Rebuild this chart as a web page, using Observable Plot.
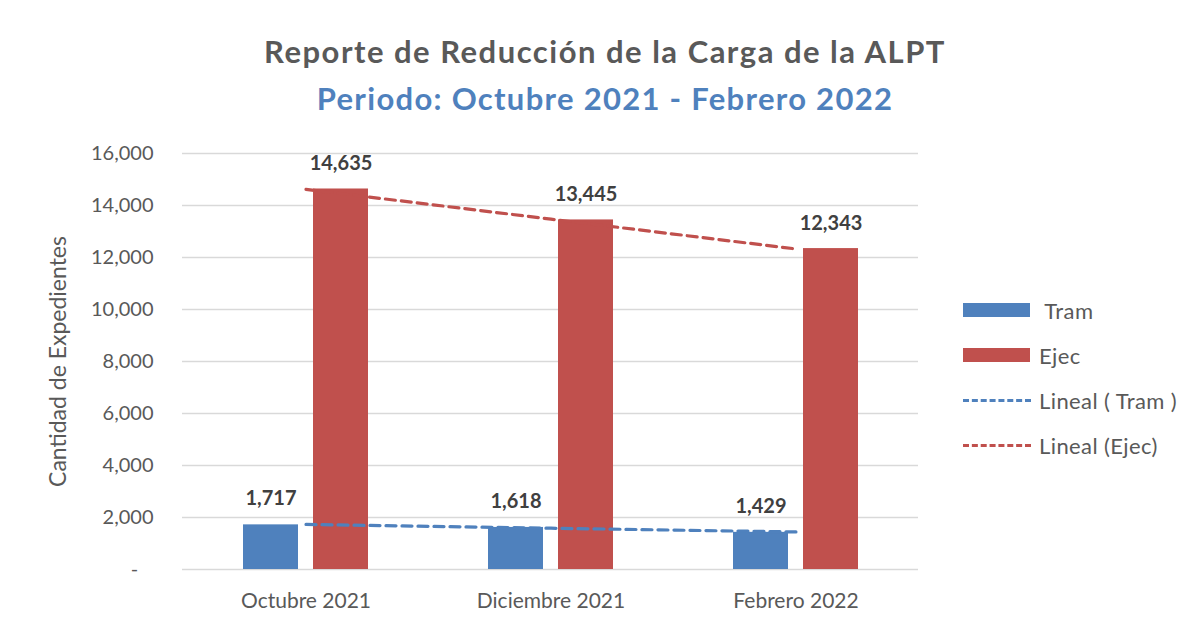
<!DOCTYPE html>
<html>
<head>
<meta charset="utf-8">
<script src="https://cdn.jsdelivr.net/npm/d3@7"></script>
<script src="https://cdn.jsdelivr.net/npm/@observablehq/plot@0.6"></script>
<style>
  html, body { margin: 0; padding: 0; background: #fff; }
  body { width: 1202px; height: 628px; overflow: hidden; font-family: Lato, "Open Sans", sans-serif; }
  #head { position: relative; height: 140px; }
  #head div { position: absolute; left: 0; width: 1210px; text-align: center; font-weight: bold; font-size: 31px; line-height: 34px; white-space: nowrap; }
  #t1 { top: 34px; color: #595959; letter-spacing: 1.5px; }
  #t2 { top: 81px; color: #4F81BD; letter-spacing: 1.3px; }
  #wrap { position: relative; }
  #legend { position: absolute; left: 0; top: 0; width: 1202px; height: 628px; pointer-events: none; }
  .li { position: absolute; left: 963px; height: 30px; display: flex; align-items: center; font-size: 22px; letter-spacing: 0.4px; color: #595959; white-space: pre; }
  .sw { width: 67px; height: 14px; margin-right: 9px; }
  .ln { width: 68px; height: 0; border-top: 3px dashed; margin-right: 8px; }
</style>
</head>
<body>
<div id="wrap">
  <div id="head"><div id="t1">Reporte de Reducción de la Carga de la ALPT</div><div id="t2">Periodo: Octubre 2021 - Febrero 2022</div></div>
  <div id="chart"></div>
  <div id="legend"></div>
</div>
<script>
const categories = ["Octubre 2021", "Diciembre 2021", "Febrero 2022"];
const tram = [1717, 1618, 1429];
const ejec = [14635, 13445, 12343];
const yTicks = [0, 2000, 4000, 6000, 8000, 10000, 12000, 14000, 16000];
const seriesNames = [" Tram", "Ejec", "Lineal ( Tram )", "Lineal (Ejec)"];

const BLUE = "#4F81BD", RED = "#C0504D";

// least-squares linear trend over category index (like Excel's linear trendline)
function trend(vals) {
  const xs = vals.map((_, i) => i + 1);
  const mx = d3.mean(xs), my = d3.mean(vals);
  const b = d3.sum(xs, (x, i) => (x - mx) * (vals[i] - my)) / d3.sum(xs, x => (x - mx) ** 2);
  return xs.map(x => my + b * (x - mx));
}
const tramFit = trend(tram), ejecFit = trend(ejec);
const tramRows = categories.map((c, i) => ({cat: c, value: tram[i], fit: tramFit[i]}));
const ejecRows = categories.map((c, i) => ({cat: c, value: ejec[i], fit: ejecFit[i]}));
const fmt = d3.format(",");

const chart = Plot.plot({
  width: 1202,
  height: 488,
  marginTop: 13,
  marginBottom: 59,
  marginLeft: 182,
  marginRight: 284,
  style: {fontFamily: "Lato, 'Open Sans', sans-serif", fontSize: "20px", color: "#595959", background: "white"},
  x: {domain: categories, padding: 0, label: null},
  y: {domain: [0, 16000], label: null},
  marks: [
    Plot.gridY(yTicks, {stroke: "#D9D9D9", strokeOpacity: 1, strokeWidth: 1.5}),
    Plot.axisY(yTicks, {tickSize: 0, tickPadding: 29, label: null, fontSize: 20, fill: "#595959",
      tickFormat: d => d === 0 ? "-\u00a0\u00a0\u00a0" : fmt(d)}),
    Plot.axisX({tickSize: 0, tickPadding: 24, label: null, fontSize: 21, fill: "#595959"}),
    Plot.barY(tramRows, {x: "cat", y: "value", fill: BLUE, insetLeft: 60, insetRight: 130}),
    Plot.barY(ejecRows, {x: "cat", y: "value", fill: RED, insetLeft: 130, insetRight: 60}),
    Plot.line(tramRows, {x: "cat", y: "fit", stroke: BLUE, strokeWidth: 3.2, strokeDasharray: "10,6"}),
    Plot.line(ejecRows, {x: "cat", y: "fit", stroke: RED, strokeWidth: 3.2, strokeDasharray: "10,6"}),
    Plot.text(tramRows, {x: "cat", y: "value", text: d => fmt(d.value), dx: -35, dy: -26, fontWeight: "bold", fontSize: 20, fill: "#404040"}),
    Plot.text(ejecRows, {x: "cat", y: "value", text: d => fmt(d.value), dx: 35, dy: -25, fontWeight: "bold", fontSize: 20, fill: "#404040"}),
    Plot.text(["Cantidad de Expedientes"], {frameAnchor: "left", textAnchor: "middle", lineAnchor: "middle", dx: -124, rotate: -90, fontSize: 23, fill: "#595959"})
  ]
});
document.getElementById("chart").appendChild(chart);

const legend = document.getElementById("legend");
const items = [
  {name: seriesNames[0], kind: "sw", color: BLUE, y: 310},
  {name: seriesNames[1], kind: "sw", color: RED, y: 355},
  {name: seriesNames[2], kind: "ln", color: BLUE, y: 400},
  {name: seriesNames[3], kind: "ln", color: RED, y: 445}
];
for (const it of items) {
  const row = document.createElement("div");
  row.className = "li";
  row.style.top = (it.y - 15) + "px";
  const m = document.createElement("span");
  m.className = it.kind;
  if (it.kind === "sw") m.style.background = it.color; else m.style.borderTopColor = it.color;
  row.appendChild(m);
  const t = document.createElement("span");
  t.textContent = it.name;
  row.appendChild(t);
  legend.appendChild(row);
}
</script>
</body>
</html>
